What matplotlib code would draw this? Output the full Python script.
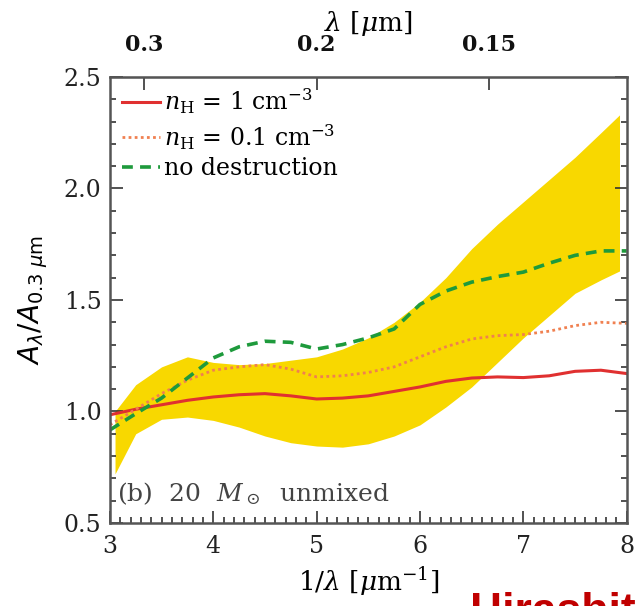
import numpy as np
import matplotlib
matplotlib.use('Agg')
import matplotlib.pyplot as plt
from matplotlib.ticker import MultipleLocator, NullLocator

plt.rcParams['font.family'] = ['DejaVu Serif']
plt.rcParams['mathtext.fontset'] = 'dejavuserif'

# extinction curves normalised at 0.3 micron
inv_lam = [3.0, 3.25, 3.5, 3.75, 4.0, 4.25, 4.5, 4.75, 5.0, 5.25, 5.5,
           5.75, 6.0, 6.25, 6.5, 6.75, 7.0, 7.25, 7.5, 7.75, 8.0]
ext_n1 = [0.985, 1.01, 1.03, 1.05, 1.065, 1.075, 1.08, 1.07, 1.056, 1.06, 1.07,
          1.09, 1.11, 1.135, 1.15, 1.155, 1.152, 1.16, 1.18, 1.185, 1.17]
ext_n01 = [0.94, 1.01, 1.08, 1.14, 1.185, 1.20, 1.21, 1.19, 1.155, 1.16, 1.175,
           1.20, 1.245, 1.29, 1.325, 1.34, 1.345, 1.36, 1.385, 1.40, 1.395]
ext_nodes = [0.917, 0.99, 1.06, 1.15, 1.24, 1.29, 1.315, 1.31, 1.28, 1.30, 1.33,
             1.37, 1.48, 1.54, 1.58, 1.605, 1.625, 1.665, 1.70, 1.72, 1.72]

# observed range (shaded band)
band_x = [3.05, 3.25, 3.5, 3.75, 4.0, 4.25, 4.5, 4.75, 5.0, 5.25, 5.5,
          5.75, 6.0, 6.25, 6.5, 6.75, 7.0, 7.25, 7.5, 7.75, 7.93]
band_hi = [1.0, 1.12, 1.20, 1.245, 1.22, 1.21, 1.215, 1.23, 1.245, 1.28, 1.33,
           1.40, 1.49, 1.60, 1.73, 1.84, 1.94, 2.04, 2.14, 2.25, 2.33]
band_lo = [0.72, 0.90, 0.965, 0.975, 0.96, 0.93, 0.89, 0.86, 0.845, 0.84, 0.855,
           0.89, 0.94, 1.02, 1.11, 1.22, 1.33, 1.43, 1.53, 1.59, 1.63]

top_ticks = [0.3, 0.2, 0.15]

fig = plt.figure(figsize=(6.35, 6.06), dpi=100)
ax = fig.add_axes([0.173, 0.137, 0.814, 0.736])

ax.fill_between(band_x, band_lo, band_hi, color='#F8D800', lw=0)
ax.plot(inv_lam, ext_n1, color='#E03030', lw=2.2, label=r'$n_{\rm H}$ = 1 cm$^{-3}$')
ax.plot(inv_lam, ext_n01, color='#F08050', lw=2.0, ls=(0, (1, 1.2)),
        label=r'$n_{\rm H}$ = 0.1 cm$^{-3}$')
ax.plot(inv_lam, ext_nodes, color='#1E9A3C', lw=2.6, ls=(0, (3, 2)),
        label='no destruction')

ax.set_xlim(3, 8)
ax.set_ylim(0.5, 2.5)
ax.xaxis.set_major_locator(MultipleLocator(1))
ax.xaxis.set_minor_locator(MultipleLocator(0.1))
ax.yaxis.set_major_locator(MultipleLocator(0.5))
ax.yaxis.set_minor_locator(MultipleLocator(0.1))
ax.yaxis.set_major_formatter(plt.FormatStrFormatter('%.1f'))
ax.tick_params(which='both', direction='in', top=False, right=True, colors='#333333',
               labelcolor='#222222', labelsize=17, width=1.2)
ax.tick_params(which='major', length=9)
ax.tick_params(which='minor', length=4.5)
ax.tick_params(axis='x', pad=9)
ax.tick_params(axis='y', pad=6)
for s in ax.spines.values():
    s.set_color('#555555')
    s.set_linewidth(1.8)

ax.set_xlabel(r'1/$\lambda$ [$\mu$m$^{-1}$]', fontsize=19, labelpad=5)
ax.set_ylabel(r'$A_\lambda/A_{0.3\ \mu{\rm m}}$', fontsize=20, labelpad=10,
              math_fontfamily='dejavusans')

top = ax.secondary_xaxis('top', functions=(lambda x: 1 / x, lambda x: 1 / x))
top.set_xticks(top_ticks)
top.set_xticklabels(['0.3', '0.2', '0.15'], fontweight='bold')
top.xaxis.set_minor_locator(NullLocator())
top.tick_params(direction='in', length=9, width=1.2, labelsize=16, colors='#333333',
                labelcolor='#111111', pad=15)
top.set_xlabel(r'$\lambda$ [$\mu$m]', fontsize=19, labelpad=2)

ax.text(3.07, 0.63, r'(b)  20  $M_\odot$  unmixed', fontsize=18, color='#444444',
        va='center', ha='left')

ax.legend(loc='upper left', frameon=False, fontsize=17, handlelength=1.6,
          handletextpad=0.2, labelspacing=0.25, borderaxespad=0.0,
          bbox_to_anchor=(0.005, 1.0))

fig.text(0.74, -0.03, 'Hirashita', color='#C00000', fontsize=32,
         fontweight='bold', family='Liberation Sans', va='baseline', ha='left')

fig.savefig('out.png', dpi=100)
